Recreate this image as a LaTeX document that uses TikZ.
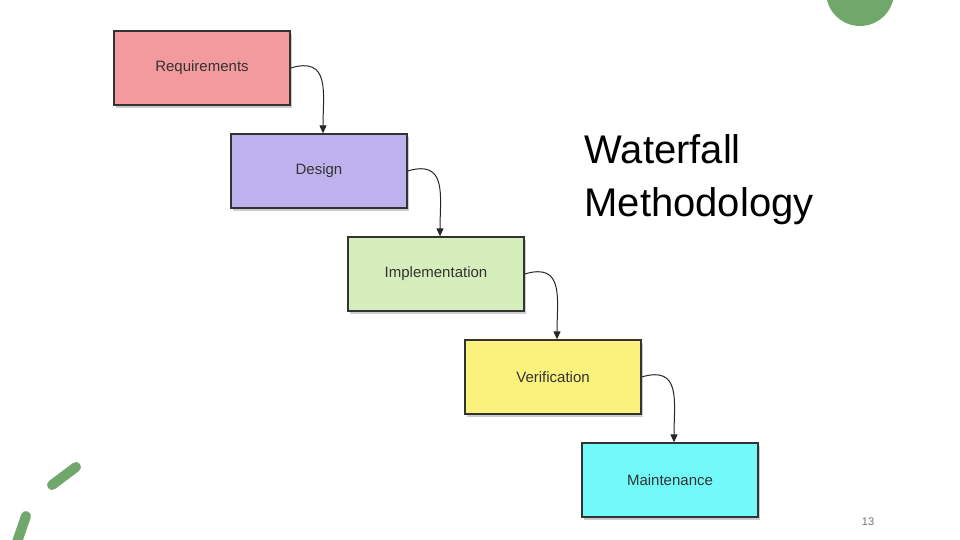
\documentclass[tikz,border=0pt]{standalone}
\usepackage{fontspec}
\setmainfont{Liberation Sans}
\usetikzlibrary{arrows.meta,shadows}
\definecolor{cA}{HTML}{F29A9D}
\definecolor{cB}{HTML}{BEB2EE}
\definecolor{cC}{HTML}{D6EDBC}
\definecolor{cD}{HTML}{FBF27E}
\definecolor{cE}{HTML}{72FAFA}
\definecolor{gr}{HTML}{6FA86A}
\tikzset{
 phase/.style={draw=black!80,line width=1.3pt,minimum width=176pt,minimum height=74pt,inner sep=0pt,
   font=\fontsize{15}{17}\selectfont,text=black!80,drop shadow={shadow xshift=2pt,shadow yshift=-3pt,opacity=0.4}},
 flow/.style={draw=black!85,line width=1pt,-{Triangle[length=8pt,width=7pt]}},
 stroke/.style={gr,line width=10pt,line cap=round}
}
\begin{document}
\begin{tikzpicture}[x=1pt,y=-1pt]
\useasboundingbox (0,0) rectangle (960,540);
\fill[gr] (860,-8) circle (34);
\draw[stroke] (52,485) -- (76,467);
\draw[stroke] (26,516) -- (16,545);
\node[phase,fill=cA] (a) at (202,68) {Requirements};
\node[phase,fill=cB] (b) at (319,171) {Design};
\node[phase,fill=cC] (c) at (436,274) {Implementation};
\node[phase,fill=cD] (d) at (553,377) {Verification};
\node[phase,fill=cE] (e) at (670,480) {Maintenance};
\foreach \u/\v in {a/b,b/c,c/d,d/e}{
 \draw[flow] (\u.east) .. controls +(40,-12) and +(0,-40) .. ([xshift=4pt]\v.north);
}
\node[anchor=west,align=left,font=\fontsize{40}{53}\selectfont] (t) at (581,180) {Waterfall\\Methodology};
\node[font=\fontsize{11}{12}\selectfont,text=black!55] (n) at (868,522) {13};
\end{tikzpicture}
\end{document}
